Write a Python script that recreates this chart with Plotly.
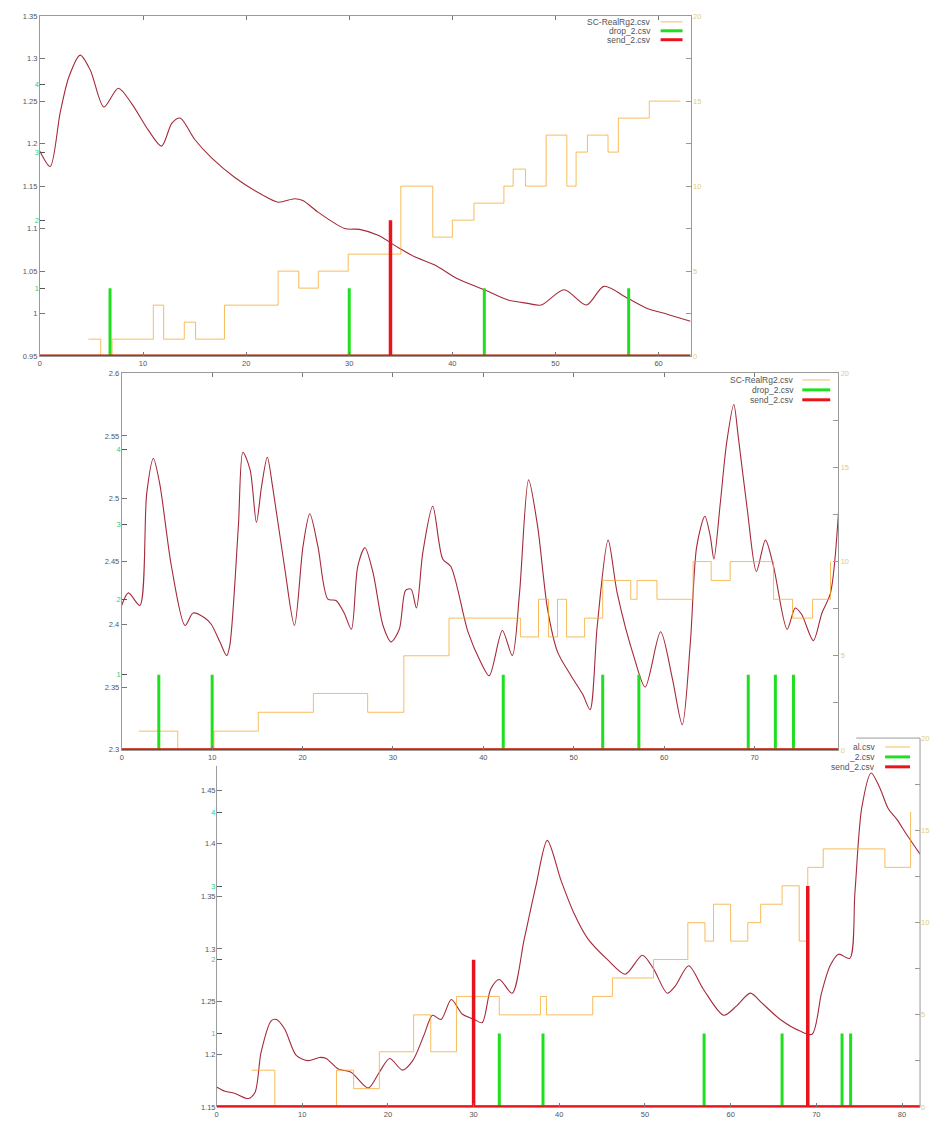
import plotly.graph_objects as go

# ---------------- data ----------------
# Panel 1
p1_t = [0, 1.0, 1.96, 2.8, 3.9, 4.9, 6.2, 7.6, 8.9, 10.5, 11.8, 12.8, 13.6, 15.0, 16.65,
        18.9, 21.5, 23.1, 24.7, 25.5, 27.0, 29.55, 31.0, 32.8, 34.7, 36.3, 38.3, 40.5,
        43.1, 45.4, 47.3, 48.6, 50.85, 53.0, 54.7, 57.0, 58.9, 60.9, 63.1]
p1_v = [1.191, 1.173, 1.236, 1.278, 1.304, 1.286, 1.243, 1.265, 1.247, 1.216, 1.197, 1.224,
        1.230, 1.205, 1.183, 1.160, 1.140, 1.131, 1.135, 1.133, 1.119, 1.100, 1.099, 1.092,
        1.078, 1.067, 1.057, 1.041, 1.028, 1.016, 1.012, 1.010, 1.028, 1.010, 1.032, 1.018,
        1.006, 0.999, 0.991]
p1_step_t = [4.7, 5.9, 7.0, 11.0, 12.0, 14.0, 15.1, 17.9, 23.1, 25.1, 27.0, 29.9, 35.0, 38.1,
             40.0, 42.1, 45.0, 45.9, 47.1, 49.1, 51.1, 52.0, 53.1, 55.1, 56.1, 59.1, 62.1]
p1_step_v = [1, 0, 1, 3, 1, 2, 1, 3, 5, 4, 5, 6, 10, 7, 8, 9, 10, 11, 10, 13, 10, 12, 13, 12,
             14, 15, 15]
p1_drop_t = [6.8, 30.0, 43.1, 57.1]
p1_drop_v = [1, 1, 1, 1]
p1_send_t = [34.0]
p1_send_v = [2]

# Panel 2
p2_t = [0, 0.74, 2.0, 2.76, 3.5, 4.2, 5.5, 7.0, 7.9, 9.2, 9.9, 10.85, 11.6, 11.95, 12.9, 13.4,
        14.2, 14.9, 15.45, 16.1, 16.7, 18.0, 19.1, 20.05, 20.8, 21.7, 22.8, 23.7, 24.6, 25.4,
        26.1, 26.9, 27.8, 28.9, 29.8, 30.7, 31.4, 32.0, 32.6, 33.3, 34.4, 35.5, 36.4, 38.3,
        39.7, 40.65, 42.1, 43.2, 44.0, 45.0, 46.0, 47.1, 48.2, 49.7, 51.0, 51.8, 52.6, 53.8,
        54.8, 56.7, 57.9, 59.6, 60.9, 62.0, 62.9, 63.6, 64.5, 65.1, 65.5, 66.2, 66.9, 67.7,
        68.2, 69.2, 70.2, 71.2, 72.1, 73.6, 74.5, 75.2, 76.5, 77.45, 78.4, 79.3]
p2_v = [2.415, 2.425, 2.415, 2.504, 2.532, 2.512, 2.446, 2.399, 2.409, 2.405, 2.400, 2.386,
        2.375, 2.383, 2.478, 2.537, 2.523, 2.481, 2.509, 2.533, 2.509, 2.446, 2.399, 2.462,
        2.488, 2.462, 2.420, 2.419, 2.409, 2.396, 2.446, 2.461, 2.441, 2.399, 2.386, 2.396,
        2.427, 2.428, 2.413, 2.457, 2.494, 2.452, 2.446, 2.394, 2.370, 2.359, 2.395, 2.375,
        2.425, 2.515, 2.478, 2.412, 2.378, 2.359, 2.344, 2.332, 2.399, 2.467, 2.425, 2.373,
        2.350, 2.394, 2.357, 2.320, 2.386, 2.462, 2.486, 2.470, 2.452, 2.496, 2.544, 2.575,
        2.549, 2.491, 2.442, 2.467, 2.446, 2.396, 2.413, 2.408, 2.387, 2.409, 2.425, 2.491]
p2_step_t = [1.9, 6.2, 10.2, 15.1, 21.2, 27.2, 31.2, 36.2, 44.1, 46.1, 47.2, 48.2, 49.2, 51.2,
             53.2, 56.3, 57.0, 59.2, 63.2, 65.2, 67.3, 72.1, 74.2, 76.4, 78.4]
p2_step_v = [1, 0, 1, 2, 3, 2, 5, 7, 6, 8, 6, 8, 6, 7, 9, 8, 9, 8, 10, 9, 10, 8, 7, 8, 10]
p2_drop_t = [4.1, 10.0, 42.2, 53.2, 57.2, 69.3, 72.3, 74.3]
p2_drop_v = [1, 1, 1, 1, 1, 1, 1, 1]
p2_send_t = []
p2_send_v = []

# Panel 3
p3_t = [0, 0.97, 2.1, 3.7, 4.5, 5.2, 6.4, 7.0, 7.95, 9.3, 10.7, 12.0, 12.8, 14.2, 15.7, 17.7,
        19.0, 20.2, 21.7, 22.9, 24.2, 25.2, 26.2, 27.4, 28.7, 30.1, 31.0, 32.0, 33.0, 34.5,
        35.9, 37.25, 38.6, 40.2, 41.7, 43.3, 45.6, 47.7, 49.7, 51.0, 52.6, 53.55, 55.1, 56.8,
        59.2, 60.7, 62.3, 63.6, 65.8, 68.1, 69.5, 70.6, 71.6, 72.6, 73.9, 74.5, 75.3, 76.4,
        77.4, 78.4, 79.4, 80.5, 82.1]
p3_v = [1.169, 1.165, 1.163, 1.158, 1.164, 1.202, 1.232, 1.233, 1.224, 1.199, 1.194, 1.197,
        1.196, 1.186, 1.183, 1.168, 1.183, 1.196, 1.185, 1.194, 1.218, 1.237, 1.233, 1.252,
        1.238, 1.233, 1.230, 1.262, 1.271, 1.258, 1.309, 1.359, 1.403, 1.365, 1.334, 1.310,
        1.290, 1.276, 1.294, 1.281, 1.258, 1.265, 1.284, 1.262, 1.237, 1.246, 1.258, 1.249,
        1.233, 1.222, 1.219, 1.258, 1.284, 1.295, 1.291, 1.353, 1.434, 1.467, 1.453, 1.433,
        1.423, 1.409, 1.390]
p3_step_t = [4.1, 6.8, 14.0, 16.0, 19.0, 23.0, 25.0, 28.0, 33.0, 37.8, 38.5, 43.9, 46.2, 51.0,
             55.0, 57.0, 58.0, 60.0, 62.0, 63.5, 66.0, 68.0, 69.0, 70.8, 78.0, 81.0]
p3_step_v = [2, 0, 2, 1, 3, 5, 3, 6, 5, 6, 5, 6, 7, 8, 10, 9, 11, 9, 10, 11, 12, 9, 13, 14, 13, 16]
p3_drop_t = [33.0, 38.1, 56.9, 66.0, 73.0, 74.0]
p3_drop_v = [1, 1, 1, 1, 1, 1]
p3_send_t = [30.0, 69.0]
p3_send_v = [2, 3]

x_ranges = [[0, 63.1], [0, 79.25], [0, 82.1]]
left_ranges = [[0.95, 1.35], [2.3, 2.6], [1.15, 1.5]]
left_ticks = [[0.95, 1.0, 1.05, 1.1, 1.15, 1.2, 1.25, 1.3, 1.35],
              [2.3, 2.35, 2.4, 2.45, 2.5, 2.55, 2.6],
              [1.15, 1.2, 1.25, 1.3, 1.35, 1.4, 1.45]]
left_tick_text = [["0.95", "1", "1.05", "1.1", "1.15", "1.2", "1.25", "1.3", "1.35"],
                  ["2.3", "2.35", "2.4", "2.45", "2.5", "2.55", "2.6"],
                  ["1.15", "1.2", "1.25", "1.3", "1.35", "1.4", "1.45"]]
event_ticks = [[1, 2, 3, 4], [1, 2, 3, 4], [1, 2, 3, 4]]
right_ticks = [0, 2.5, 5, 7.5, 10, 12.5, 15, 17.5, 20]
right_tick_text = ["0", "", "5", "", "10", "", "15", "", "20"]
legend_names = ["SC-RealRg2.csv", "drop_2.csv", "send_2.csv"]
legend_names_p3 = ["al.csv", "_2.csv", "send_2.csv"]

# ---------------- layout geometry (pixels) ----------------
W, H = 936, 1122
boxes = [dict(l=38, t=12, r=690, b=355),
         dict(l=120, t=372, r=838, b=752),
         dict(l=215, t=740, r=920, b=1112)]


def fx(x):
    return x / W


def fy(y):
    return 1 - y / H


def impulses(ts, vs, xmax):
    xs, ys = [0], [0]
    for t, v in zip(ts, vs):
        xs += [t, t, t]
        ys += [0, v, 0]
    xs.append(xmax)
    ys.append(0)
    return xs, ys


panels = [
    (p1_t, p1_v, p1_step_t, p1_step_v, p1_drop_t, p1_drop_v, p1_send_t, p1_send_v),
    (p2_t, p2_v, p2_step_t, p2_step_v, p2_drop_t, p2_drop_v, p2_send_t, p2_send_v),
    (p3_t, p3_v, p3_step_t, p3_step_v, p3_drop_t, p3_drop_v, p3_send_t, p3_send_v),
]

ORANGE = "rgba(245,165,40,0.75)"
CURVE = "#a52a3a"
GREEN = "#1ee01e"
RED = "#e8141b"
FRAME = "#9a9a9a"
FAMILY = "Liberation Sans, Arial, sans-serif"
TICKFONT = dict(family=FAMILY, size=7.5, color="#555555")

fig = go.Figure()
layout = dict(width=W, height=H, margin=dict(l=0, r=0, t=0, b=0),
              paper_bgcolor="white", plot_bgcolor="rgba(0,0,0,0)",
              showlegend=False, shapes=[], annotations=[])

for i, (t, v, st, sv, dt, dv, sdt, sdv) in enumerate(panels):
    b = boxes[i]
    xn = "x" if i == 0 else f"x{i + 1}"
    xkey = "xaxis" if i == 0 else f"xaxis{i + 1}"
    n_main, n_right, n_ev = 3 * i + 1, 3 * i + 2, 3 * i + 3
    ym = "y" if n_main == 1 else f"y{n_main}"
    yr = f"y{n_right}"
    ye = f"y{n_ev}"
    ymkey = "yaxis" if n_main == 1 else f"yaxis{n_main}"
    xmax = x_ranges[i][1]
    last = (i == 2)

    fig.add_trace(go.Scatter(x=st, y=sv, mode="lines", xaxis=xn, yaxis=yr,
                             line=dict(shape="hv", color=ORANGE, width=1), hoverinfo="skip"))
    fig.add_trace(go.Scatter(x=t, y=v, mode="lines", xaxis=xn, yaxis=ym,
                             line=dict(shape="spline", smoothing=0.8, color=CURVE, width=1.1)))
    gx, gy = impulses(dt, dv, xmax)
    fig.add_trace(go.Scatter(x=gx, y=gy, mode="lines", xaxis=xn, yaxis=ye,
                             line=dict(color=GREEN, width=3)))
    rx, ry = impulses(sdt, sdv, xmax)
    fig.add_trace(go.Scatter(x=rx, y=ry, mode="lines", xaxis=xn, yaxis=ye,
                             line=dict(color=RED, width=3.5)))

    layout[xkey] = dict(domain=[fx(b["l"]), fx(b["r"])], anchor=ym, range=x_ranges[i],
                        tickmode="linear", tick0=0, dtick=10, ticks="inside", ticklen=4,
                        tickcolor="#777", showline=True, linecolor=FRAME, linewidth=1,
                        mirror=False if last else "ticks", showgrid=False, zeroline=False,
                        tickfont=TICKFONT)
    layout[ymkey] = dict(domain=[fy(b["b"]), fy(b["t"])], anchor=xn,
                         range=[left_ranges[i][0] - 1e-4, left_ranges[i][1] + 1e-4],
                         tickmode="array", tickvals=left_ticks[i], ticktext=left_tick_text[i],
                         ticks="inside", ticklen=5, tickcolor="#777",
                         showline=not last, linecolor=FRAME, linewidth=1,
                         showgrid=False, zeroline=False, tickfont=TICKFONT)
    layout[f"yaxis{n_right}"] = dict(overlaying=ym, side="right", anchor=xn,
                                     range=[0, 20.01], tickmode="array", tickvals=right_ticks,
                                     ticktext=right_tick_text, ticks="inside", ticklen=5,
                                     tickcolor="#999", showline=not last, linecolor=FRAME,
                                     linewidth=1, showgrid=False, zeroline=False,
                                     tickfont=dict(family=FAMILY, size=7.5, color="#e2cc78"))
    layout[f"yaxis{n_ev}"] = dict(overlaying=ym, side="left", anchor=xn,
                                  range=[0, 5.01], tickmode="array", tickvals=event_ticks[i],
                                  ticks="inside", ticklen=5, tickcolor="#555",
                                  showline=False, showgrid=False, zeroline=False,
                                  tickfont=dict(family=FAMILY, size=7.5, color="#2ccf7a"))

    # legend in gnuplot style: text right-aligned, sample line to the right
    if i == 0:
        rows, tx, lx0, lx1, names = [18, 27, 36], 652, 660, 682, legend_names
    elif i == 1:
        rows, tx, lx0, lx1, names = [379, 389, 399], 796, 802, 830, legend_names
    else:
        rows, tx, lx0, lx1, names = [749, 759, 769], 877, 885, 910, legend_names_p3
    for row, name, col, wd in zip(rows, names, [ORANGE, GREEN, RED], [1, 3, 3]):
        layout["annotations"].append(dict(x=fx(tx), y=fy(row), xref="paper", yref="paper",
                                          text=name, showarrow=False, xanchor="right",
                                          yanchor="middle",
                                          font=dict(family=FAMILY, size=8.5, color="#555555")))
        layout["shapes"].append(dict(type="line", xref="paper", yref="paper",
                                     x0=fx(lx0), x1=fx(lx1), y0=fy(row), y1=fy(row),
                                     line=dict(color=col, width=wd)))

# panel 3 frame (partly hidden behind panel 2 in the original)
b3 = boxes[2]
for (x0, y0, x1, y1) in [(b3["l"], 768, b3["l"], b3["b"]),
                         (b3["r"], b3["t"], b3["r"], b3["b"]),
                         (856, b3["t"], b3["r"], b3["t"])]:
    layout["shapes"].append(dict(type="line", xref="paper", yref="paper",
                                 x0=fx(x0), x1=fx(x1), y0=fy(y0), y1=fy(y1),
                                 line=dict(color=FRAME, width=1)))

fig.update_layout(**layout)
fig.write_html("out.html", config={"displayModeBar": False},
               post_script="document.body.style.margin='0px';"
                           "document.body.style.overflow='hidden';")
